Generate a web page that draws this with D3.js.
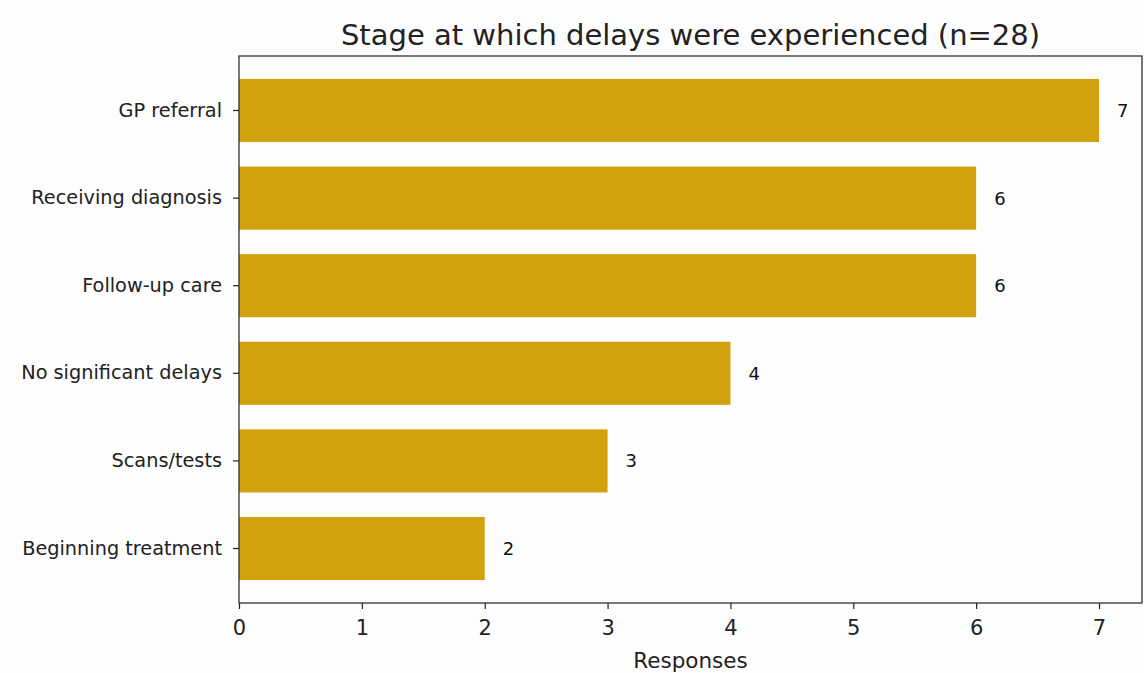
<!DOCTYPE html>
<html>
<head>
<meta charset="utf-8">
<script src="https://cdn.jsdelivr.net/npm/d3@7/dist/d3.min.js"></script>
<style>
  html, body { margin: 0; padding: 0; background: #fdfdfd; }
  svg { display: block; font-family: "DejaVu Sans", sans-serif; }
</style>
</head>
<body>
<svg id="chart" width="1144" height="673"></svg>
<script>
// Delay stages, ordered top to bottom
const categories = [
  "GP referral",
  "Receiving diagnosis",
  "Follow-up care",
  "No significant delays",
  "Scans/tests",
  "Beginning treatment"
];
const responses = [7, 6, 6, 4, 3, 2];
const xTicks = [0, 1, 2, 3, 4, 5, 6, 7];
const titleText = "Stage at which delays were experienced (n=28)";
const xLabel = "Responses";

const W = 1144, H = 673;
const margin = { top: 56, right: 2, bottom: 70, left: 239 };
const plotW = W - margin.left - margin.right;
const plotH = H - margin.top - margin.bottom;

const svg = d3.select("#chart");
svg.append("rect").attr("width", W).attr("height", H).attr("fill", "#fdfdfd");

const g = svg.append("g").attr("transform", `translate(${margin.left},${margin.top})`);

const x = d3.scaleLinear().domain([0, 7.35]).range([0, plotW]);
const y = d3.scaleBand()
  .domain(categories)
  .range([0, plotH])
  .paddingInner(0.28)
  .paddingOuter(0.262);

// Bars
g.selectAll("rect.bar")
  .data(categories)
  .join("rect")
  .attr("class", "bar")
  .attr("x", x(0))
  .attr("y", d => y(d))
  .attr("width", (d, i) => x(responses[i]) - x(0))
  .attr("height", y.bandwidth())
  .attr("fill", "#d2a10e");

// Value labels
g.selectAll("text.val")
  .data(categories)
  .join("text")
  .attr("class", "val")
  .attr("x", (d, i) => x(responses[i]) + 18)
  .attr("y", d => y(d) + y.bandwidth() / 2)
  .attr("dy", "0.36em")
  .attr("font-size", 18)
  .attr("fill", "#111")
  .text((d, i) => responses[i]);

// Y axis
const yAxis = g.append("g")
  .call(d3.axisLeft(y).tickSize(6).tickPadding(11));
yAxis.select(".domain").remove();
yAxis.selectAll(".tick line").attr("stroke", "#222").attr("stroke-width", 1.2);
yAxis.selectAll(".tick text")
  .attr("font-size", 19.3)
  .attr("fill", "#222")
  .attr("font-family", "DejaVu Sans, sans-serif");

// X axis
const xAxis = g.append("g")
  .attr("transform", `translate(0,${plotH})`)
  .call(d3.axisBottom(x).tickValues(xTicks).tickFormat(d3.format("d")).tickSize(6).tickPadding(11));
xAxis.select(".domain").remove();
xAxis.selectAll(".tick line").attr("stroke", "#222").attr("stroke-width", 1.2);
xAxis.selectAll(".tick text")
  .attr("font-size", 21)
  .attr("fill", "#222")
  .attr("font-family", "DejaVu Sans, sans-serif");

// Frame
g.append("rect")
  .attr("x", 0).attr("y", 0)
  .attr("width", plotW).attr("height", plotH)
  .attr("fill", "none")
  .attr("stroke", "#333")
  .attr("stroke-width", 1.3);

// Title
svg.append("text")
  .attr("x", margin.left + plotW / 2)
  .attr("y", 45)
  .attr("text-anchor", "middle")
  .attr("font-size", 29)
  .attr("fill", "#222")
  .text(titleText);

// X label
svg.append("text")
  .attr("x", margin.left + plotW / 2)
  .attr("y", 668)
  .attr("text-anchor", "middle")
  .attr("font-size", 21.5)
  .attr("fill", "#222")
  .text(xLabel);
</script>
</body>
</html>
